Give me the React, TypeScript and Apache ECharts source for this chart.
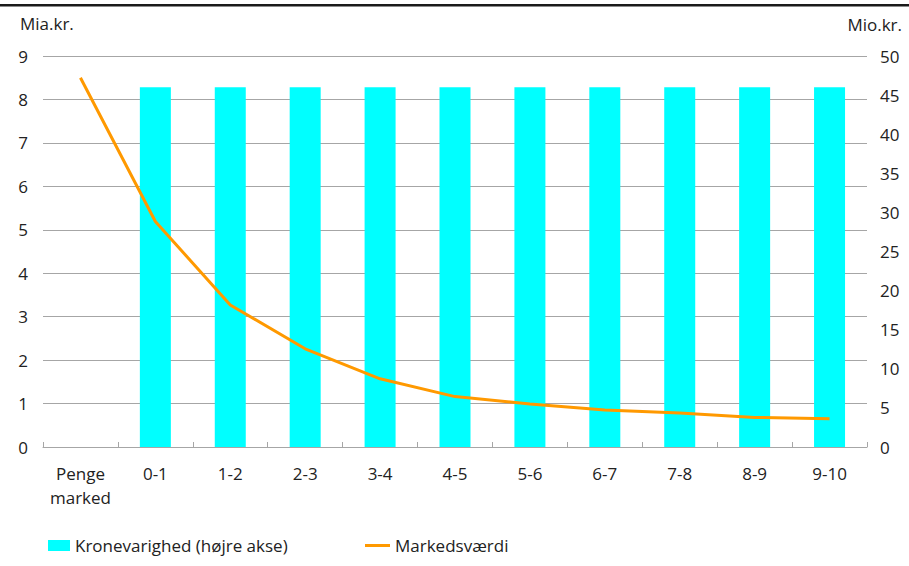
import React, { useEffect, useRef } from "react";
import * as echarts from "echarts";

// Løbetidsintervaller (år)
const categories: string[] = [
  "Penge\nmarked", "0-1", "1-2", "2-3", "3-4", "4-5", "5-6", "6-7", "7-8", "8-9", "9-10",
];

// Kronevarighed, mio. kr. (højre akse) – intet tal for pengemarkedet
const kronevarighed: (number | null)[] = [
  null, 46, 46, 46, 46, 46, 46, 46, 46, 46, 46,
];

// Markedsværdi, mia. kr. (venstre akse)
const markedsvaerdi: number[] = [
  8.5, 5.19, 3.27, 2.26, 1.57, 1.16, 0.99, 0.85, 0.78, 0.68, 0.65,
];

const leftTicks = { min: 0, max: 9, interval: 1 };
const rightTicks = { min: 0, max: 50, interval: 5 };

const FONT = "'Open Sans', 'Noto Sans', sans-serif";
const FS = 17;
const TEXT = "#222222";
const GRID = "#a6a6a6";

export default function App() {
  const ref = useRef<HTMLDivElement>(null);

  useEffect(() => {
    if (!ref.current) return;
    const chart = echarts.init(ref.current, null, { renderer: "svg" });
    chart.setOption({
      animation: false,
      textStyle: { fontFamily: FONT, color: TEXT },
      grid: { left: 43, right: 42, top: 56, bottom: 119, containLabel: false },
      graphic: [
        {
          type: "rect",
          shape: { x: 0, y: 4, width: 909, height: 2.5 },
          style: { fill: "#1a1a1a" },
          silent: true,
        },
        {
          type: "text",
          left: 20,
          top: 15,
          style: { text: "Mia.kr.", font: `${FS}px ${FONT}`, fill: TEXT },
        },
        {
          type: "text",
          right: 7,
          top: 16,
          style: { text: "Mio.kr.", font: `${FS}px ${FONT}`, fill: TEXT },
        },
      ],
      legend: [
        {
          data: [{ name: "Kronevarighed (højre akse)", icon: "rect" }],
          left: 48,
          top: 537,
          padding: 0,
          itemWidth: 22,
          itemHeight: 11,
          textStyle: { fontSize: FS, color: TEXT, fontFamily: FONT },
        },
        {
          data: [{ name: "Markedsværdi", icon: "rect" }],
          left: 365,
          top: 537,
          padding: 0,
          itemWidth: 25,
          itemHeight: 3,
          textStyle: { fontSize: FS, color: TEXT, fontFamily: FONT },
        },
      ],
      xAxis: {
        type: "category",
        data: categories,
        boundaryGap: true,
        axisLine: { lineStyle: { color: GRID, width: 1 } },
        axisTick: { show: true, inside: true, length: 5, lineStyle: { color: GRID } },
        axisLabel: {
          interval: 0,
          fontSize: FS,
          color: TEXT,
          fontFamily: FONT,
          margin: 14,
          lineHeight: 24,
        },
      },
      yAxis: [
        {
          type: "value",
          ...leftTicks,
          axisLine: { show: false },
          axisTick: { show: false },
          splitLine: { show: true, lineStyle: { color: GRID, width: 1 } },
          axisLabel: { fontSize: FS, color: TEXT, fontFamily: FONT, margin: 15 },
        },
        {
          type: "value",
          ...rightTicks,
          position: "right",
          axisLine: { show: false },
          axisTick: { show: false },
          splitLine: { show: false },
          axisLabel: { fontSize: FS, color: TEXT, fontFamily: FONT, margin: 13 },
        },
      ],
      series: [
        {
          name: "Kronevarighed (højre akse)",
          type: "bar",
          yAxisIndex: 1,
          data: kronevarighed,
          barWidth: 31,
          itemStyle: { color: "#00ffff" },
        },
        {
          name: "Markedsværdi",
          type: "line",
          yAxisIndex: 0,
          data: markedsvaerdi,
          symbol: "none",
          showSymbol: false,
          lineStyle: { color: "#ff9900", width: 3 },
          itemStyle: { color: "#ff9900" },
        },
      ],
    });
    return () => chart.dispose();
  }, []);

  return (
    <div
      ref={ref}
      style={{ position: "fixed", left: 0, top: 0, width: 909, height: 566, background: "#fff" }}
    />
  );
}
